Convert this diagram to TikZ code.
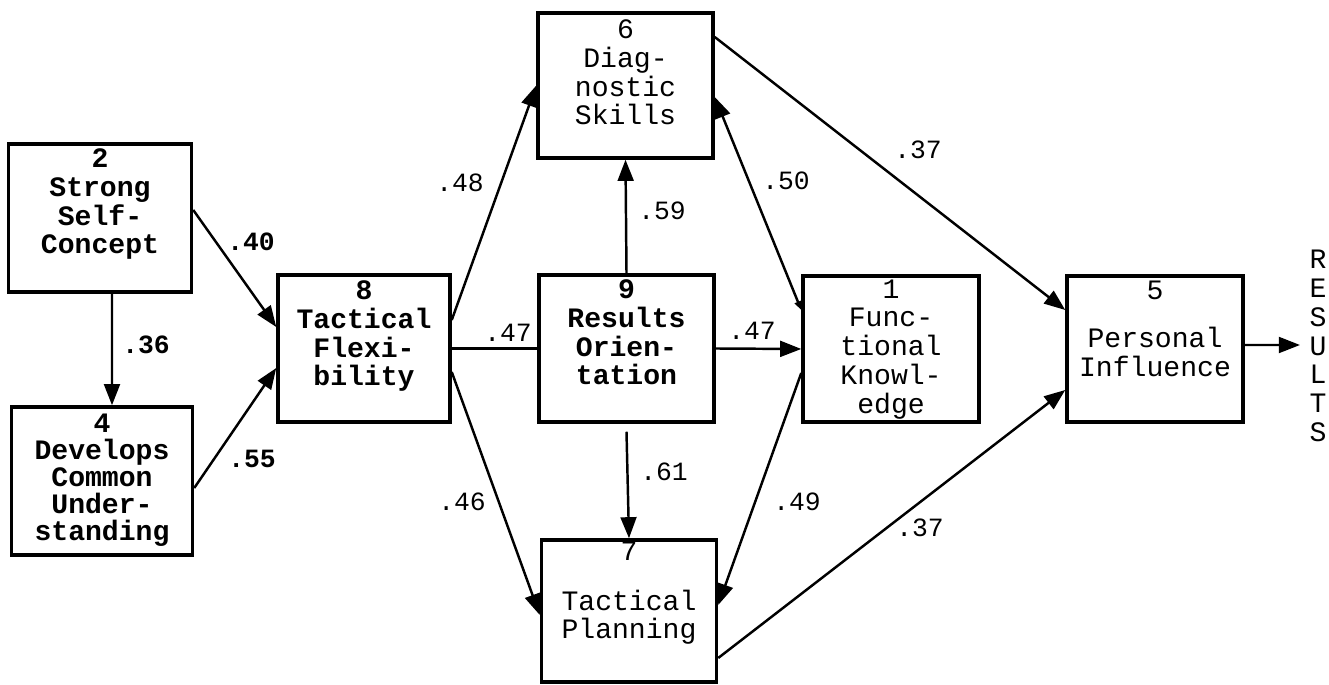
\documentclass[tikz,border=0pt]{standalone}
\usepackage{fontspec}
\setmainfont{Liberation Mono}
\usetikzlibrary{arrows.meta,positioning}

\tikzset{
  >={Triangle[length=12pt,width=9pt]},
  box/.style={draw, line width=2pt, minimum width=3.5cm, minimum height=2.92cm, inner sep=0pt},
  boxtext/.style={align=center, inner sep=0pt, font=\fontsize{16}{16.4}\selectfont},
  coef/.style={inner sep=0pt, font=\fontsize{15}{15}\selectfont},
  link/.style={line width=1.4pt, ->},
}

\begin{document}
\begin{tikzpicture}[x=0.02cm,y=-0.02cm]
  \useasboundingbox (0,0) rectangle (1329,685);

  % boxes
  \node[box, minimum width=3.66cm, minimum height=2.96cm] (selfc) at (100,218) {};
  \node[box, minimum width=3.62cm, minimum height=2.96cm] (devcu) at (102,481) {};
  \node[box, minimum width=3.44cm, minimum height=2.94cm] (tflex) at (364,348.5) {};
  \node[box, minimum height=2.9cm] (diag) at (625.5,85.5) {};
  \node[box, minimum height=2.94cm] (resor) at (626.5,348.5) {};
  \node[box, minimum height=2.84cm] (tplan) at (629,611) {};
  \node[box, minimum width=3.52cm] (funck) at (891,349) {};
  \node[box, minimum width=3.52cm] (pinfl) at (1155,349) {};

  % box texts
  \node[boxtext, font=\fontsize{16}{16.4}\selectfont\bfseries, below=0.12cm of selfc.north] (selfcT) {2\\Strong\\Self-\\Concept};
  \node[boxtext, font=\fontsize{16}{15.4}\selectfont\bfseries, below=0.16cm of devcu.north] (devcuT) {4\\Develops\\Common\\Under-\\standing};
  \node[boxtext, font=\fontsize{16}{16.4}\selectfont\bfseries, below=0.14cm of tflex.north] (tflexT) {8\\Tactical\\Flexi-\\bility};
  \node[boxtext, below=0.16cm of diag.north] (diagT) {6\\Diag-\\nostic\\Skills};
  \node[boxtext, font=\fontsize{16}{16.4}\selectfont\bfseries, below=0.12cm of resor.north] (resorT) {9\\Results\\Orien-\\tation};
  \node[boxtext, below=0.1cm of funck.north] (funckT) {1\\Func-\\tional\\Knowl-\\edge};
  \node[boxtext, below=0.12cm of pinfl.north] (pinflT) {5\\[11pt]Personal\\Influence};
  \node[boxtext, below=0.06cm of tplan.north] (tplanT) {7\\[12pt]Tactical\\Planning};

  \node[align=center, inner sep=0pt, font=\fontsize{16}{16.4}\selectfont] (results) at (1318,346) {R\\E\\S\\U\\L\\T\\S};
  \coordinate (resend) at (1300,345);

  % paths
  \draw[link] ([xshift=0.24cm]selfc.south) -- ([xshift=0.2cm]devcu.north);
  \draw[link] ([yshift=0.16cm]selfc.east) -- ([yshift=0.43cm]tflex.west);
  \draw[link] ([yshift=-0.14cm]devcu.east) -- ([yshift=-0.39cm]tflex.west);
  \draw[link] ([yshift=0.57cm]tflex.east) -- (diag.west);
  \draw[link] ([yshift=-0.47cm]tflex.east) -- ([yshift=-0.08cm]tplan.west);
  \draw[line width=1.4pt] (tflex.east) -- (resor.west);
  \draw[link] (resor.north) -- (diag.south);
  \draw[link] (resor.east) -- (funck.west);
  \draw[link] ([yshift=-0.16cm]resor.south) -- (tplan.north);
  \draw[line width=1.4pt, {Triangle[length=5pt,width=4pt]}-{Triangle[length=12pt,width=9pt]}] ([yshift=0.78cm]funck.west) -- ([yshift=-0.23cm]diag.east);
  \draw[link] ([yshift=-0.48cm]funck.west) -- ([yshift=0.12cm]tplan.east);
  \draw[link] ([yshift=0.97cm]diag.east) -- ([yshift=0.78cm]pinfl.west);
  \draw[link] ([yshift=-0.94cm]tplan.east) -- ([yshift=-0.82cm]pinfl.west);
  \draw[link] ([yshift=0.08cm]pinfl.east) -- (resend);

  % coefficients
  \node[coef, font=\fontsize{15}{15}\selectfont\bfseries] (c36) at (146,345) {.36};
  \node[coef, font=\fontsize{15}{15}\selectfont\bfseries] (c40) at (251,242) {.40};
  \node[coef, font=\fontsize{15}{15}\selectfont\bfseries] (c55) at (252,459) {.55};
  \node[coef] (c48) at (460,183) {.48};
  \node[coef] (c59) at (662,211) {.59};
  \node[coef] (c50) at (786,181) {.50};
  \node[coef] (c37a) at (918,150) {.37};
  \node[coef] (c47a) at (508,333) {.47};
  \node[coef] (c47b) at (752,331) {.47};
  \node[coef] (c61) at (664,472) {.61};
  \node[coef] (c46) at (462,502) {.46};
  \node[coef] (c49) at (797,502) {.49};
  \node[coef] (c37b) at (920,528) {.37};
\end{tikzpicture}
\end{document}
